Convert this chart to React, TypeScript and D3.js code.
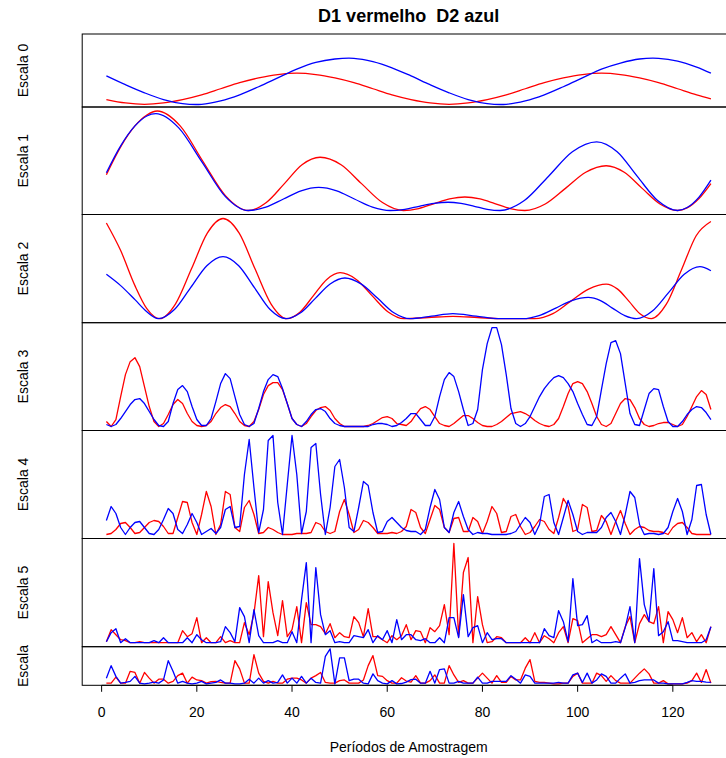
import React from 'react';
import * as d3 from 'd3';

// ---------- text ----------
const TITLE = 'D1 vermelho  D2 azul';
const X_LABEL = 'Períodos de Amostragem';
const PANEL_LABELS = ['Escala 0', 'Escala 1', 'Escala 2', 'Escala 3', 'Escala 4', 'Escala 5', 'Escala'];
const X_TICKS = [0, 20, 40, 60, 80, 100, 120];

// ---------- data (values normalised per panel, 0 = panel min, 100 = panel max) ----------
// Escala 0 : sampled every 4 periods
const P0_X = [1, 5, 9, 13, 17, 21, 25, 29, 33, 37, 41, 45, 49, 53, 57, 61, 65, 69, 73, 77, 81, 85, 89, 93, 97, 101, 105, 109, 113, 117, 121, 125, 128];
const P0_D1 = [7, 2, 0, 2, 7, 14, 23, 32, 39, 44, 46, 44, 39, 32, 23, 14, 7, 2, 0, 2, 7, 14, 23, 32, 39, 44, 46, 44, 39, 32, 23, 14, 8];
const P0_D2 = [42, 29, 17, 7, 1, 0, 5, 14, 26, 39, 52, 62, 67, 68, 63, 54, 42, 29, 17, 7, 1, 0, 5, 14, 26, 39, 52, 61, 67, 68, 64, 55, 46];

// Escala 1 : [period, value]
const P1_D1: [number, number][] = [[1,36],[4,64],[7,85],[9.5,96],[11.7,100],[16.5,85],[21.2,50],[26,15],[30.8,0],[34.6,8],[38.4,27],[42.1,46],[45.9,53.5],[50.3,46],[54.6,27],[59,8],[63.4,0],[66.6,2],[69.9,7],[73.1,11.6],[76.3,13.6],[79.5,11.6],[82.6,7],[85.8,2],[88.9,0],[93.2,6.6],[97.5,22.5],[101.7,38.4],[106,45],[109.8,38.4],[113.5,22.5],[117.3,6.6],[121,0],[123,2.6],[125.5,12],[128,27]];
const P1_D2: [number, number][] = [[1,38],[4,65],[7,85],[9.5,95],[11.4,97.3],[16.2,83],[21.1,48.6],[26,14],[30.8,0],[34.5,3.4],[38.2,11.6],[41.9,19.8],[45.6,23.2],[49.4,19.8],[53.1,11.6],[56.9,3.4],[60.6,0],[63.7,1.2],[66.7,4.2],[69.8,7.1],[72.8,8.3],[75.5,7.1],[78.3,4.2],[81,1.2],[83.7,0],[88.8,10],[93.9,34.5],[98.9,59],[104,69],[108.3,59],[112.5,34.5],[116.8,10],[121,0],[123,3],[125.5,13.5],[128,30.5]];

// Escala 2 : [period, value]
const P2_D1: [number, number][] = [[1,95.5],[4,68],[7,33],[9.5,10],[12.2,0],[15.5,14.6],[18.9,50],[22.2,85.4],[25.5,100],[28.9,85.4],[32.2,50],[35.6,14.6],[38.9,0],[41.7,6.7],[44.5,23],[47.3,39.2],[50.1,45.9],[53.5,39.2],[56.8,23],[60.2,6.7],[63.5,0],[68.6,1.2],[73.8,2.4],[79,1.2],[84,0],[91,0],[94.8,5],[98.5,17.3],[102.3,29.5],[106,34.5],[108.4,29.5],[110.8,17.3],[113.1,5],[115.5,0],[118.6,14.2],[121.8,48.5],[124.9,82.8],[128,97]];
const P2_D2: [number, number][] = [[1,44.3],[4,33],[7,19],[9.5,7],[11.9,0],[15.3,9.1],[18.7,31],[22.1,52.9],[25.5,62],[28.8,52.9],[32.1,31],[35.4,9.1],[38.7,0],[41.8,5.9],[44.9,20.3],[48,34.7],[51.1,40.6],[54.5,34.7],[58,20.3],[61.4,5.9],[64.8,0],[69.3,2.5],[73.8,5.1],[78.7,2.5],[83.7,0],[88.5,0],[91.9,3.1],[95.4,10.6],[98.8,18.1],[102.2,21.2],[104.8,18.1],[107.3,10.6],[109.9,3.1],[112.4,0],[115.7,7.6],[119.1,26],[122.4,44.4],[125.7,52],[128,47.9]];

// Escalas 3-6 : one value per period 1..128
const P3_D1 = [5,0,7,30,52,65,69,60,40,20, 5,0,3,12,22,27,23,13,5,1, 0,1,5,13,19,22,20,13,5,1, 0,5,17,32,41,44,44,37,23,8, 2,0,3,10,16,19,20,16,8,3, 0,0,0,0,0,1,3,6,9,10, 8,3,2,1,5,12,18,20,17,10, 3,1,0,3,7,11,11,8,4,1, 0,0,2,5,9,13,14,15,13,10, 6,3,1,0,2,8,20,33,43,45, 43,35,23,10,2,0,3,13,23,28, 27,19,8,2,0,1,3,4,4,2, 0,2,10,20,30,36,32,17];
const P3_D2 = [2,0,2,8,15,22,27,28,23,15, 7,1,0,5,23,37,41,35,20,7, 1,1,8,25,43,53,48,30,12,2, 0,3,18,35,47,52,50,38,23,8, 2,0,5,12,17,18,15,8,3,1, 0,0,0,0,0,0,2,3,3,2, 0,1,4,8,13,13,7,1,1,10, 30,47,54,50,35,17,1,3,17,57, 83,99,99,82,52,18,3,0,3,10, 20,30,38,44,49,51,49,43,35,23, 12,2,1,10,37,63,84,86,73,43, 13,2,1,17,33,38,37,20,5,0, 0,5,12,17,20,19,14,7];

const P4_D1 = [0,1,5,11,12,7,1,2,7,12, 14,13,8,1,1,17,33,32,12,0, 20,43,28,0,10,43,40,7,3,27, 34,20,1,2,7,5,2,0,0,0, 1,1,1,2,12,10,3,1,3,23, 35,20,2,5,14,12,7,1,1,1, 2,1,3,8,25,22,7,1,15,29, 25,7,2,16,17,3,3,17,13,1, 13,28,21,2,3,18,20,8,0,2, 8,15,13,5,1,17,36,28,3,5, 30,27,3,4,19,13,0,13,24,11, 0,5,8,7,4,3,3,2,0,7, 11,12,7,1,0,0,0,0];
const P4_D2 = [14,28,21,7,0,7,12,13,7,1, 0,5,15,26,21,5,1,10,21,12, 0,3,6,1,7,25,28,7,8,60, 95,47,2,25,94,99,32,0,50,99, 60,1,23,87,91,40,0,27,68,75, 47,7,3,27,53,49,22,2,3,13, 17,12,7,4,3,3,0,5,27,45, 35,7,2,22,33,18,5,0,2,1, 1,0,0,0,0,1,3,10,17,12, 0,10,38,40,12,0,17,34,20,3, 0,2,2,2,7,17,22,13,0,20, 43,37,10,0,1,1,0,1,7,23, 36,23,0,15,49,50,20,0];

const P5_D1 = [1,13,8,3,2,0,0,1,0,0, 0,0,0,0,0,0,12,6,9,25, 0,5,0,0,6,0,2,0,0,20, 8,29,67,6,61,30,7,42,6,13, 36,0,40,18,18,16,9,19,5,10, 6,5,26,20,6,34,6,6,3,0, 7,3,7,18,3,12,11,0,15,11, 17,38,8,99,6,70,85,0,46,18, 0,1,6,5,0,0,0,0,5,0, 10,0,7,4,0,10,16,0,24,22, 0,4,8,8,6,8,16,8,0,16, 26,0,19,28,21,19,36,0,31,23, 10,25,5,10,1,8,0,16];
const P5_D2 = [1,10,14,0,4,0,0,0,0,0, 2,0,5,0,0,0,0,5,0,8, 3,0,0,0,1,16,10,1,35,26, 0,33,7,0,0,0,2,0,0,11, 0,43,80,0,75,28,8,12,0,1, 0,0,7,6,5,13,0,7,3,12, 0,23,3,8,8,3,2,4,0,0, 5,0,25,25,5,48,6,15,17,0, 10,3,4,4,0,0,0,0,0,0, 0,0,14,7,5,32,21,1,64,17, 18,27,0,3,0,0,0,1,0,15, 36,0,84,38,21,74,7,11,21,2, 2,1,0,0,0,0,3,16];

const P6_D1 = [2,2,19,2,2,35,32,2,32,16, 2,13,13,2,7,23,30,2,19,11, 9,2,6,7,4,2,2,65,42,2, 2,82,30,7,2,7,2,2,13,16, 16,11,2,16,23,32,4,2,2,9, 11,2,2,2,11,51,79,23,21,9, 2,2,17,8,5,23,2,2,9,25, 2,2,51,25,4,9,2,2,16,30, 16,2,23,4,4,21,11,11,44,68, 7,4,4,2,0,0,2,2,21,30, 2,2,2,30,23,7,23,9,2,2, 2,16,30,42,28,2,2,9,0,0, 0,0,2,9,30,4,40,2];
const P6_D2 = [16,51,21,2,4,7,21,2,0,2, 5,2,11,65,35,2,7,2,0,2, 7,0,2,4,11,2,2,0,0,2, 13,2,16,2,9,2,4,25,2,16, 2,21,2,16,4,2,77,98,0,73, 73,9,13,13,2,0,28,9,2,0, 9,0,1,5,12,13,2,2,35,2, 40,42,2,2,7,2,2,2,19,2, 2,7,7,7,7,23,13,2,25,21, 2,2,2,2,2,4,2,2,25,30, 4,30,2,11,28,21,2,2,16,28, 2,4,9,11,11,11,2,2,0,0, 0,0,4,9,7,7,5,4];

// ---------- layout ----------
const W = 726;
const H = 758;
const PANEL_TOP = [34, 107, 214.5, 322.7, 430.5, 538.5, 646.7];
const PANEL_BOTTOM = [107, 214.5, 322.7, 430.5, 538.5, 646.7, 685.3];
const PLOT_LEFT = 82.2;
const PLOT_RIGHT = 735.1;
const FONT = '"Liberation Sans", Arial, Helvetica, sans-serif';
const RED = '#ff0000';
const BLUE = '#0000ff';

type Pt = [number, number];
const indexed = (vals: number[]): Pt[] => vals.map((v, i) => [i + 1, v] as Pt);

export default function App() {
  const x = d3.scaleLinear().domain([-4.08, 133.08]).range([PLOT_LEFT, PLOT_RIGHT]);

  const panels: { d1: Pt[]; d2: Pt[]; curve: d3.CurveFactory }[] = [
    { d1: P0_X.map((p, i) => [p, P0_D1[i]] as Pt), d2: P0_X.map((p, i) => [p, P0_D2[i]] as Pt), curve: d3.curveCatmullRom },
    { d1: P1_D1, d2: P1_D2, curve: d3.curveMonotoneX },
    { d1: P2_D1, d2: P2_D2, curve: d3.curveMonotoneX },
    { d1: indexed(P3_D1), d2: indexed(P3_D2), curve: d3.curveLinear },
    { d1: indexed(P4_D1), d2: indexed(P4_D2), curve: d3.curveLinear },
    { d1: indexed(P5_D1), d2: indexed(P5_D2), curve: d3.curveLinear },
    { d1: indexed(P6_D1), d2: indexed(P6_D2), curve: d3.curveLinear },
  ];

  const axisY = PANEL_BOTTOM[PANEL_BOTTOM.length - 1];

  return (
    <svg width={W} height={H} style={{ position: 'absolute', left: 0, top: 0, background: '#fff' }} fontFamily={FONT}>
      <rect x={0} y={0} width={W} height={H} fill="#fff" />
      <text x={(PLOT_LEFT + PLOT_RIGHT) / 2} y={22} textAnchor="middle" fontWeight="bold" fontSize={18} style={{ whiteSpace: 'pre' }} xmlSpace="preserve">{TITLE}</text>
      {panels.map((p, k) => {
        const y = d3.scaleLinear().domain([-4, 104]).range([PANEL_BOTTOM[k], PANEL_TOP[k]]);
        const line = d3.line<Pt>().x(d => x(d[0])).y(d => y(d[1])).curve(p.curve);
        const cy = (PANEL_TOP[k] + PANEL_BOTTOM[k]) / 2;
        return (
          <g key={k}>
            <path d={line(p.d1) || ''} fill="none" stroke={RED} strokeWidth={1.3} strokeLinejoin="round" />
            <path d={line(p.d2) || ''} fill="none" stroke={BLUE} strokeWidth={1.3} strokeLinejoin="round" />
            <rect x={PLOT_LEFT} y={PANEL_TOP[k]} width={PLOT_RIGHT - PLOT_LEFT} height={PANEL_BOTTOM[k] - PANEL_TOP[k]} fill="none" stroke="#000" strokeWidth={1} />
            <text transform={`translate(23,${cy}) rotate(-90)`} textAnchor="middle" dominantBaseline="central" fontSize={14}>{PANEL_LABELS[k]}</text>
          </g>
        );
      })}
      <line x1={x(X_TICKS[0])} x2={x(X_TICKS[X_TICKS.length - 1])} y1={axisY} y2={axisY} stroke="#000" />
      {X_TICKS.map(t => (
        <g key={t}>
          <line x1={x(t)} x2={x(t)} y1={axisY} y2={axisY + 6.5} stroke="#000" />
          <text x={x(t)} y={717} textAnchor="middle" fontSize={14}>{t}</text>
        </g>
      ))}
      <text x={(PLOT_LEFT + PLOT_RIGHT) / 2} y={752} textAnchor="middle" fontSize={14}>{X_LABEL}</text>
    </svg>
  );
}
